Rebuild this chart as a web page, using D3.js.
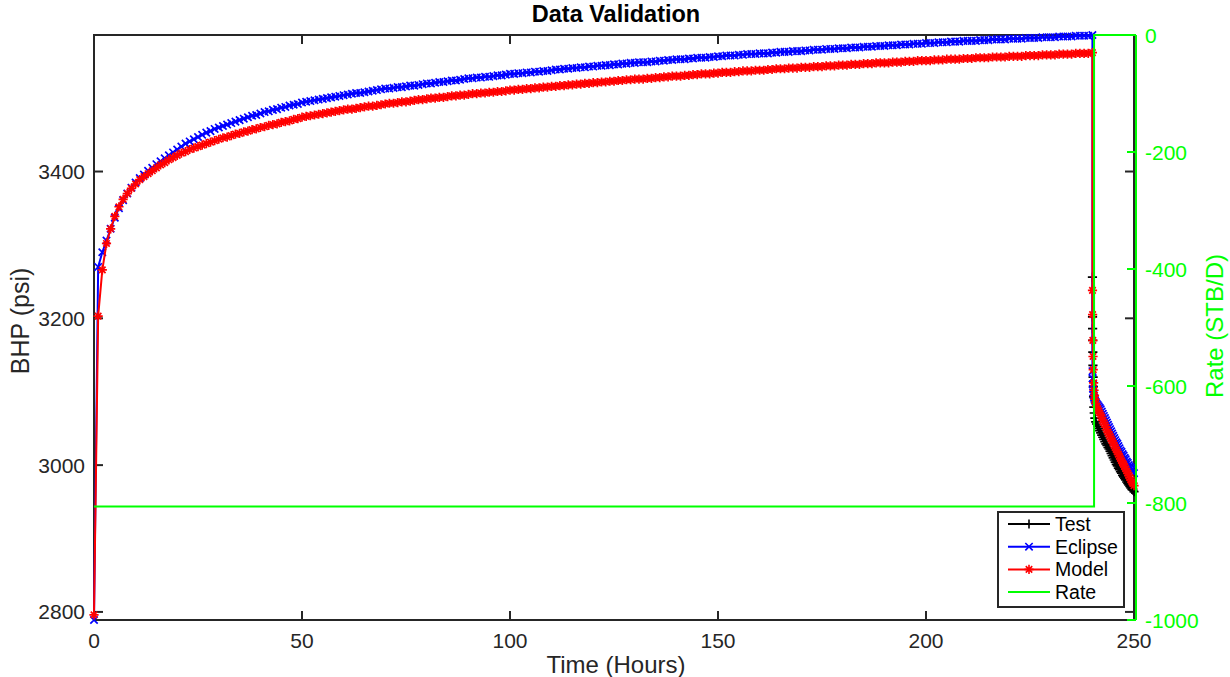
<!DOCTYPE html>
<html>
<head>
<meta charset="utf-8">
<script src="https://cdn.jsdelivr.net/npm/d3@7"></script>
<style>
  html, body { margin: 0; padding: 0; background: #fff; }
  svg { display: block; font-family: "Liberation Sans", Arial, Helvetica, sans-serif; }
</style>
</head>
<body>
<svg id="chart" width="1230" height="677"></svg>
<script>
// ---- Buildup period (hours 0..240, hourly samples) ----
const buildTime = d3.range(0, 241);   // 0,1,2,...,240 h

const eclipseBuild = [
  2789,
  3270, 3290, 3306, 3322, 3337, 3350, 3361, 3370, 3378, 3385,
  3391, 3396, 3401, 3405, 3410, 3414, 3418, 3422, 3426, 3430,
  3434, 3438, 3441, 3444, 3447, 3450, 3453, 3455, 3458, 3460,
  3462, 3464, 3466, 3468, 3470, 3472, 3474, 3476, 3477, 3479,
  3481, 3482, 3484, 3485, 3487, 3488, 3490, 3491, 3492, 3494,
  3495, 3496, 3497, 3498, 3499, 3500, 3501, 3502, 3503, 3504,
  3505, 3506, 3507, 3507, 3508, 3509, 3510, 3511, 3512, 3513,
  3513, 3514, 3515, 3515, 3516, 3517, 3517, 3518, 3519, 3520,
  3520, 3521, 3522, 3522, 3523, 3524, 3524, 3525, 3526, 3527,
  3527, 3528, 3528, 3529, 3529, 3530, 3531, 3531, 3532, 3533,
  3533, 3534, 3534, 3535, 3535, 3536, 3536, 3537, 3537, 3538,
  3539, 3539, 3540, 3540, 3541, 3541, 3542, 3542, 3543, 3543,
  3544, 3544, 3545, 3545, 3546, 3546, 3547, 3547, 3548, 3548,
  3549, 3549, 3549, 3550, 3550, 3551, 3551, 3552, 3552, 3553,
  3553, 3553, 3554, 3554, 3555, 3555, 3555, 3556, 3556, 3557,
  3557, 3558, 3558, 3558, 3559, 3559, 3560, 3560, 3560, 3561,
  3561, 3561, 3562, 3562, 3563, 3563, 3563, 3564, 3564, 3564,
  3565, 3565, 3566, 3566, 3566, 3567, 3567, 3567, 3568, 3568,
  3568, 3569, 3569, 3569, 3570, 3570, 3570, 3571, 3571, 3571,
  3572, 3572, 3572, 3573, 3573, 3573, 3574, 3574, 3574, 3575,
  3575, 3575, 3576, 3576, 3576, 3577, 3577, 3577, 3578, 3578,
  3578, 3578, 3579, 3579, 3579, 3580, 3580, 3580, 3580, 3581,
  3581, 3581, 3581, 3582, 3582, 3582, 3582, 3583, 3583, 3583,
  3583, 3584, 3584, 3584, 3584, 3585, 3585, 3585, 3585, 3586
];

const modelBuild = [
  2796,
  3203, 3266, 3302, 3322, 3339, 3352, 3362, 3370, 3377, 3383,
  3389, 3393, 3397, 3401, 3405, 3409, 3412, 3416, 3419, 3422,
  3425, 3427, 3430, 3432, 3434, 3436, 3438, 3440, 3442, 3444,
  3446, 3447, 3449, 3451, 3452, 3454, 3455, 3457, 3458, 3460,
  3461, 3463, 3464, 3465, 3467, 3468, 3469, 3471, 3472, 3474,
  3475, 3476, 3477, 3478, 3479, 3480, 3481, 3482, 3483, 3484,
  3485, 3485, 3486, 3487, 3488, 3489, 3489, 3490, 3491, 3492,
  3493, 3493, 3494, 3495, 3495, 3496, 3497, 3498, 3498, 3499,
  3500, 3500, 3501, 3501, 3502, 3503, 3503, 3504, 3504, 3505,
  3506, 3506, 3507, 3507, 3508, 3508, 3509, 3509, 3510, 3511,
  3511, 3512, 3512, 3513, 3513, 3514, 3514, 3515, 3515, 3516,
  3516, 3517, 3517, 3518, 3518, 3519, 3519, 3520, 3520, 3521,
  3521, 3522, 3522, 3523, 3523, 3524, 3524, 3525, 3525, 3526,
  3526, 3526, 3527, 3527, 3528, 3528, 3529, 3529, 3530, 3530,
  3530, 3531, 3531, 3532, 3532, 3533, 3533, 3533, 3534, 3534,
  3535, 3535, 3535, 3536, 3536, 3537, 3537, 3537, 3538, 3538,
  3538, 3539, 3539, 3540, 3540, 3540, 3541, 3541, 3541, 3542,
  3542, 3542, 3543, 3543, 3543, 3544, 3544, 3544, 3545, 3545,
  3545, 3546, 3546, 3546, 3547, 3547, 3547, 3548, 3548, 3548,
  3548, 3549, 3549, 3549, 3550, 3550, 3550, 3551, 3551, 3551,
  3551, 3552, 3552, 3552, 3553, 3553, 3553, 3553, 3554, 3554,
  3554, 3555, 3555, 3555, 3555, 3556, 3556, 3556, 3556, 3557,
  3557, 3557, 3557, 3558, 3558, 3558, 3558, 3559, 3559, 3559,
  3559, 3560, 3560, 3560, 3560, 3561, 3561, 3561, 3561, 3562
];

// ---- Falloff period (after shut-in at 240 h) ----
const fallTime = [
  240.02, 240.05, 240.1, 240.15, 240.2, 240.3, 240.4, 240.5, 240.6, 240.8,
  241, 241.25, 241.5, 241.75, 242, 242.25, 242.5, 242.75, 243, 243.25,
  243.5, 243.75, 244, 244.25, 244.5, 244.75, 245, 245.25, 245.5, 245.75,
  246, 246.25, 246.5, 246.75, 247, 247.25, 247.5, 247.75, 248, 248.25,
  248.5, 248.75, 249, 249.25, 249.5, 249.75, 250
];

const eclipseFall = [
  3128, 3118, 3110, 3104, 3099, 3095, 3092, 3090, 3088, 3086,
  3084, 3082, 3080, 3078, 3076, 3073, 3070, 3067, 3064, 3061,
  3058, 3055, 3052, 3049, 3046, 3043, 3040, 3037, 3034, 3031,
  3029, 3026, 3023, 3020, 3018, 3015, 3013, 3010, 3008, 3005,
  3003, 3000, 2998, 2996, 2994, 2991, 2989
];

const modelFall = [
  3238, 3205, 3170, 3148, 3130, 3112, 3102, 3095, 3090, 3084,
  3080, 3077, 3074, 3071, 3068, 3065, 3061, 3058, 3055, 3052,
  3048, 3045, 3042, 3039, 3036, 3033, 3030, 3027, 3024, 3021,
  3018, 3015, 3012, 3009, 3006, 3003, 3001, 2998, 2995, 2992,
  2989, 2986, 2983, 2980, 2977, 2975, 2972
];

// Measured falloff data (test)
const testTime = [
  240.01, 240.03, 240.05, 240.07, 240.1, 240.13, 240.17, 240.22, 240.28, 240.35,
  240.45, 240.6, 240.8, 241, 241.25, 241.5, 241.75, 242, 242.25, 242.5,
  242.75, 243, 243.25, 243.5, 243.75, 244, 244.25, 244.5, 244.75, 245,
  245.25, 245.5, 245.75, 246, 246.25, 246.5, 246.75, 247, 247.25, 247.5,
  247.75, 248, 248.25, 248.5, 248.75, 249, 249.25, 249.5, 249.75, 250
];
const testBHP = [
  3256, 3202, 3186, 3170, 3154, 3136, 3120, 3107, 3093, 3079,
  3071, 3064, 3059, 3056, 3053, 3050, 3047, 3044, 3041, 3038,
  3035, 3032, 3029, 3027, 3024, 3022, 3019, 3016, 3013, 3010,
  3007, 3004, 3001, 2999, 2996, 2994, 2991, 2989, 2986, 2984,
  2982, 2980, 2977, 2975, 2973, 2971, 2969, 2967, 2966, 2964
];

// Injection rate (STB/D)
const rateTime = [0, 240.4, 240.4, 250];
const rateValue = [-806, -806, 0, 0];

// Axis ticks
const xTicks = [0, 50, 100, 150, 200, 250];
const bhpTicks = [2800, 3000, 3200, 3400];
const rateTicks = [0, -200, -400, -600, -800, -1000];

const legendLabels = ["Test", "Eclipse", "Model", "Rate"];

// ---- Layout ----
const svg = d3.select("#chart");
const axisColor = "#262626";
const GREEN = "#00ff00";
const x = d3.scaleLinear().domain([0, 250]).range([94, 1134]);
const yP = d3.scaleLinear().domain([2789, 3586]).range([620, 35]);
const yR = d3.scaleLinear().domain([-1000, 0]).range([620, 35]);

const build = (t, v) => t.map((d, i) => [d, v[i]]);
const eclipse = build(buildTime, eclipseBuild).concat(build(fallTime, eclipseFall));
const model = build(buildTime, modelBuild).concat(build(fallTime, modelFall));
const test = build(testTime, testBHP);
const rate = build(rateTime, rateValue);

const lineP = d3.line().x(d => x(d[0])).y(d => yP(d[1]));
const lineR = d3.line().x(d => x(d[0])).y(d => yR(d[1]));

// Marker shapes
const S = 4.6;
const markerPath = {
  plus: `M${-S},0H${S}M0,${-S}V${S}`,
  cross: `M${-S*0.8},${-S*0.8}L${S*0.8},${S*0.8}M${-S*0.8},${S*0.8}L${S*0.8},${-S*0.8}`,
  star: `M${-S},0H${S}M0,${-S}V${S}M${-S*0.7},${-S*0.7}L${S*0.7},${S*0.7}M${-S*0.7},${S*0.7}L${S*0.7},${-S*0.7}`
};

function drawSeries(data, color, marker) {
  const g = svg.append("g");
  g.append("path").attr("d", lineP(data)).attr("fill", "none")
    .attr("stroke", color).attr("stroke-width", 2);
  g.selectAll("path.m").data(data).enter().append("path").attr("class", "m")
    .attr("transform", d => `translate(${x(d[0])},${yP(d[1])})`)
    .attr("d", markerPath[marker]).attr("fill", "none")
    .attr("stroke", color).attr("stroke-width", 1.7);
}

// ---- Axes frame and ticks ----
const frame = svg.append("g");
frame.append("rect").attr("x", 94).attr("y", 35).attr("width", 1040).attr("height", 585)
  .attr("fill", "none").attr("stroke", axisColor).attr("stroke-width", 2);

const tl = 9;
const tickFont = 21;
// x ticks bottom / top
xTicks.forEach(t => {
  frame.append("line").attr("x1", x(t)).attr("x2", x(t)).attr("y1", 620).attr("y2", 620 - tl)
    .attr("stroke", axisColor).attr("stroke-width", 2);
  frame.append("line").attr("x1", x(t)).attr("x2", x(t)).attr("y1", 35).attr("y2", 35 + tl)
    .attr("stroke", axisColor).attr("stroke-width", 2);
  frame.append("text").attr("x", x(t)).attr("y", 648).attr("text-anchor", "middle")
    .attr("font-size", tickFont).attr("fill", axisColor).text(t);
});
// left BHP ticks (mirrored on the right edge)
bhpTicks.forEach(v => {
  frame.append("line").attr("x1", 94).attr("x2", 94 + tl).attr("y1", yP(v)).attr("y2", yP(v))
    .attr("stroke", axisColor).attr("stroke-width", 2);
  frame.append("line").attr("x1", 1134).attr("x2", 1134 - tl).attr("y1", yP(v)).attr("y2", yP(v))
    .attr("stroke", axisColor).attr("stroke-width", 2);
  frame.append("text").attr("x", 85).attr("y", yP(v)).attr("dy", "0.36em").attr("text-anchor", "end")
    .attr("font-size", tickFont).attr("fill", axisColor).text(v);
});

// ---- Series ----
drawSeries(test, "#000000", "plus");
drawSeries(eclipse, "#0000ff", "cross");
drawSeries(model, "#ff0000", "star");

svg.append("path").attr("d", lineR(rate)).attr("fill", "none")
  .attr("stroke", GREEN).attr("stroke-width", 2);

// ---- Right (rate) axis ----
const right = svg.append("g");
right.append("line").attr("x1", 1136).attr("x2", 1136).attr("y1", 35).attr("y2", 620)
  .attr("stroke", GREEN).attr("stroke-width", 2);
rateTicks.forEach(v => {
  right.append("line").attr("x1", 1136).attr("x2", 1136 - tl).attr("y1", yR(v)).attr("y2", yR(v))
    .attr("stroke", GREEN).attr("stroke-width", 2);
  right.append("text").attr("x", 1145).attr("y", yR(v)).attr("dy", "0.36em")
    .attr("font-size", tickFont).attr("fill", GREEN).text(v);
});

// ---- Titles ----
svg.append("text").attr("x", 616).attr("y", 22).attr("text-anchor", "middle")
  .attr("font-size", 23.5).attr("font-weight", "bold").attr("fill", "#000").text("Data Validation");
svg.append("text").attr("x", 616).attr("y", 673).attr("text-anchor", "middle")
  .attr("font-size", 24).attr("fill", axisColor).text("Time (Hours)");
svg.append("text").attr("transform", "translate(29,321) rotate(-90)").attr("text-anchor", "middle")
  .attr("font-size", 25).attr("fill", axisColor).text("BHP (psi)");
svg.append("text").attr("transform", "translate(1223,326) rotate(-90)").attr("text-anchor", "middle")
  .attr("font-size", 24).attr("fill", GREEN).text("Rate (STB/D)");

// ---- Legend ----
const lg = svg.append("g");
lg.append("rect").attr("x", 998).attr("y", 512).attr("width", 126).attr("height", 95)
  .attr("fill", "#fff").attr("stroke", axisColor).attr("stroke-width", 2);
const legendStyle = [
  { color: "#000000", marker: "plus" },
  { color: "#0000ff", marker: "cross" },
  { color: "#ff0000", marker: "star" },
  { color: GREEN, marker: null }
];
legendLabels.forEach((name, i) => {
  const yy = 524 + i * 22.7;
  const st = legendStyle[i];
  lg.append("line").attr("x1", 1008).attr("x2", 1050).attr("y1", yy).attr("y2", yy)
    .attr("stroke", st.color).attr("stroke-width", 2);
  if (st.marker) {
    lg.append("path").attr("transform", `translate(1029,${yy})`).attr("d", markerPath[st.marker])
      .attr("fill", "none").attr("stroke", st.color).attr("stroke-width", 1.6);
  }
  lg.append("text").attr("x", 1055).attr("y", yy).attr("dy", "0.36em")
    .attr("font-size", 19.5).attr("fill", "#000").text(name);
});
</script>
</body>
</html>
